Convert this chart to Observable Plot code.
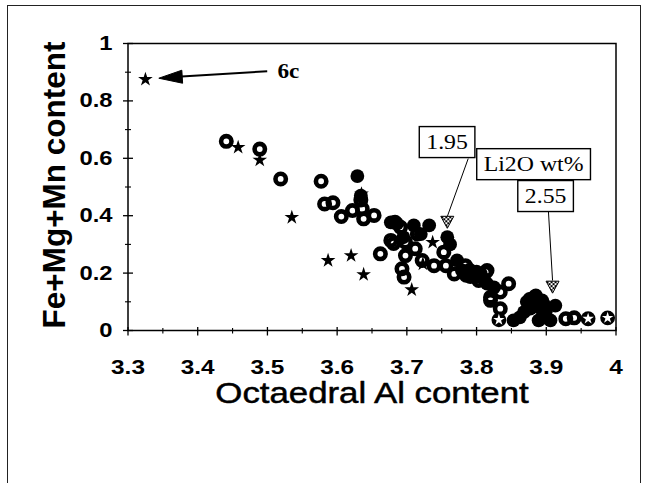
<!DOCTYPE html>
<html><head><meta charset="utf-8">
<script src="https://cdn.jsdelivr.net/npm/d3@7"></script>
<script src="https://cdn.jsdelivr.net/npm/@observablehq/plot@0.6"></script>
<style>
html,body{margin:0;padding:0;background:#fff;overflow:hidden;}
#wrap{position:relative;width:646px;height:483px;overflow:hidden;}
#wrap svg{position:absolute;left:0;top:0;}
#border{position:absolute;left:7px;top:5px;width:634px;height:520px;border:1.5px solid #222;box-sizing:border-box;pointer-events:none;}
</style></head><body><div id="wrap"><div id="border"></div></div>
<script>
// ---- data ----
const openX = [3.441,3.489,3.519,3.577,3.582,3.594,3.606,3.622,3.636,3.638,3.653,3.662,3.677,3.691,3.698,3.681,3.712,3.698,3.693,3.696,3.722,3.739,3.753,3.756,3.784,3.815,3.820,3.813,3.846,3.834,3.820,3.834,3.928,3.940,3.683,3.634,3.768,3.803,3.715];
const openY = [0.659,0.632,0.528,0.520,0.441,0.445,0.397,0.418,0.424,0.389,0.401,0.267,0.314,0.360,0.308,0.303,0.285,0.261,0.215,0.186,0.244,0.226,0.273,0.226,0.226,0.209,0.116,0.203,0.163,0.134,0.105,0.076,0.041,0.044,0.377,0.455,0.197,0.174,0.336];
const filledX = [3.629,3.634,3.677,3.686,3.710,3.732,3.695,3.720,3.758,3.772,3.779,3.791,3.806,3.815,3.862,3.882,3.894,3.877,3.899,3.906,3.889,3.868,3.913,3.853,3.872,3.890,3.898,3.762,3.785,3.800,3.885,3.876,3.896,3.790,3.800,3.810,3.825];
const filledY = [0.538,0.470,0.377,0.372,0.366,0.366,0.325,0.336,0.325,0.244,0.209,0.186,0.198,0.163,0.046,0.116,0.105,0.076,0.064,0.035,0.035,0.064,0.087,0.035,0.100,0.080,0.045,0.300,0.190,0.186,0.122,0.110,0.094,0.212,0.205,0.180,0.150];
const starX = [3.325,3.458,3.489,3.535,3.587,3.620,3.638,3.707,3.635,3.737,3.723];
const starY = [0.875,0.638,0.594,0.394,0.244,0.261,0.195,0.142,0.476,0.307,0.232];
const discStarX = [3.832,3.960,3.988];
const discStarY = [0.037,0.041,0.044];

const xTicks = [3.3,3.4,3.5,3.6,3.7,3.8,3.9,4.0];
const xTickLabels = ["3.3","3.4","3.5","3.6","3.7","3.8","3.9","4"];
const xMinor = [3.35,3.45,3.55,3.65,3.75,3.85,3.95];
const yTicks = [0,0.2,0.4,0.6,0.8,1];
const yTickLabels = ["0","0.2","0.4","0.6","0.8","1"];
const yMinor = [0.1,0.3,0.5,0.7,0.9];

const xTitle = "Octaedral Al content";
const yTitle = "Fe+Mg+Mn content";

const annLabels = ["1.95","Li2O wt%","2.55"];
const annX = [3.7577,3.8818,3.899];
const annY = [0.655,0.578,0.467];
const leaderX1 = [3.788,3.903], leaderY1 = [0.599,0.418];
const leaderX2 = [3.758,3.909], leaderY2 = [0.397,0.174];
const markerX = [3.758,3.909], markerY = [0.377,0.151];

const noteText = ["6c"], noteX = [3.530], noteY = [0.902];
const noteArrowX1 = [3.4997], noteArrowY1 = [0.9035], noteArrowX2 = [3.3767], noteArrowY2 = [0.885];
const noteHeadX = [3.3442], noteHeadY = [0.879];

// ---- tables ----
const pts = (xs, ys) => xs.map((x,i)=>({x, y: ys[i]}));
const openPts = pts(openX, openY), filledPts = pts(filledX, filledY), starPts = pts(starX, starY), discPts = pts(discStarX, discStarY);
const xTickPts = xTicks.map((x,i)=>({x, y:0, label:xTickLabels[i]}));
const yTickPts = yTicks.map((y,i)=>({x:3.3, y, label:yTickLabels[i]}));
const xMinorPts = xMinor.map(x=>({x,y:0}));
const yMinorPts = yMinor.map(y=>({x:3.3,y}));
const annPts = annLabels.map((t,i)=>({t, x:annX[i], y:annY[i]}));
const leaders = leaderX1.map((v,i)=>({x1:v,y1:leaderY1[i],x2:leaderX2[i],y2:leaderY2[i]}));
const markers = pts(markerX, markerY);
const notes = noteText.map((t,i)=>({t,x:noteX[i],y:noteY[i]}));
const noteArrows = noteArrowX1.map((v,i)=>({x1:v,y1:noteArrowY1[i],x2:noteArrowX2[i],y2:noteArrowY2[i]}));
const noteHeads = pts(noteHeadX, noteHeadY);

// ---- custom symbols ----
const vtick = (a,b) => ({draw(c){c.moveTo(0,-a);c.lineTo(0,b);}});
const htick = (a,b) => ({draw(c){c.moveTo(-a,0);c.lineTo(b,0);}});
const triDown = {draw(c){c.moveTo(-6.5,-6);c.lineTo(6.5,-6);c.lineTo(0,6);c.closePath();}};
const arrowHead = {draw(c){c.moveTo(0,0);c.lineTo(23.8,5.0);c.lineTo(23.0,-8.0);c.closePath();}};

const SANS = "Liberation Sans, Arial, sans-serif";
const SERIF = "Liberation Serif, Times New Roman, serif";

const svg = Plot.plot({
  width: 646, height: 483,
  marginLeft: 127.5, marginRight: 30.5, marginTop: 43, marginBottom: 153,
  x: {domain: [3.3, 4], axis: null},
  y: {domain: [0, 1], axis: null},
  style: {fontFamily: SANS, background: "white", overflow: "visible"},
  marks: [
    Plot.frame({stroke: "black", strokeWidth: 1.5}),
    Plot.dot(xTickPts, {x:"x", y:"y", symbol: vtick(3.5,5), r:3, stroke:"black", fill:"none", strokeWidth:1.3}),
    Plot.dot(xMinorPts, {x:"x", y:"y", symbol: vtick(2.5,3), r:3, stroke:"black", fill:"none", strokeWidth:1.1}),
    Plot.dot(yTickPts, {x:"x", y:"y", symbol: htick(5,5), r:3, stroke:"black", fill:"none", strokeWidth:1.3}),
    Plot.dot(yMinorPts, {x:"x", y:"y", symbol: htick(3,3), r:3, stroke:"black", fill:"none", strokeWidth:1.1}),
    Plot.text(xTickPts, {x:"x", y:"y", text:"label", dy: 37, fontSize: 21, fontWeight:"bold", fill:"black", lineAnchor:"middle"}),
    Plot.text(yTickPts, {x:"x", y:"y", text:"label", dx: -15.5, textAnchor:"end", fontSize: 20.5, fontWeight:"bold", fill:"black", lineAnchor:"middle"}),
    Plot.text([xTitle], {frameAnchor:"bottom", text: d=>d, dy: 63, fontSize: 30, fill:"black", stroke:"black", strokeWidth:0.5, textAnchor:"middle", lineAnchor:"middle"}),
    Plot.text([yTitle], {frameAnchor:"left", text: d=>d, rotate: -90, dx: -73.5, dy: -2, fontSize: 31.5, fontWeight:"bold", fill:"black", textAnchor:"middle", lineAnchor:"middle"}),
    // data
    Plot.dot(openPts, {x:"x", y:"y", r:5.2, fill:"none", stroke:"black", strokeWidth:4.6}),
    Plot.dot(filledPts, {x:"x", y:"y", r:6.9, fill:"black", stroke:"none"}),
    Plot.dot(starPts, {x:"x", y:"y", symbol:"star", r:4.6, fill:"black", stroke:"none"}),
    Plot.dot(discPts, {x:"x", y:"y", r:7.4, fill:"black", stroke:"none"}),
    Plot.dot(discPts, {x:"x", y:"y", symbol:"star", r:3.6, fill:"white", stroke:"none"}),
    // annotations
    Plot.link(noteArrows, {x1:"x1", y1:"y1", x2:"x2", y2:"y2", stroke:"black", strokeWidth:2}),
    Plot.dot(noteHeads, {x:"x", y:"y", symbol: arrowHead, r:3, fill:"black", stroke:"black", strokeWidth:1}),
    Plot.text(notes, {x:"x", y:"y", text:"t", fontFamily: SERIF, fontSize: 20, fontWeight:"bold", fill:"black"}),
    Plot.link(leaders, {x1:"x1", y1:"y1", x2:"x2", y2:"y2", stroke:"black", strokeWidth:1}),
    Plot.dot(markers, {x:"x", y:"y", symbol: triDown, r:3, fill:"url(#chk)", stroke:"black", strokeWidth:1}),
    Plot.text(annPts, {x:"x", y:"y", text:"t", fontFamily: SERIF, fontSize: 20.5, fill:"black"})
  ]
});

document.getElementById("wrap").insertBefore(svg, document.getElementById("border"));

// checker pattern for the Li2O markers
const defs = d3.select(svg).insert("defs", ":first-child");
const pat = defs.append("pattern").attr("id","chk").attr("patternUnits","userSpaceOnUse").attr("width",4).attr("height",4);
pat.append("rect").attr("width",4).attr("height",4).attr("fill","white");
pat.append("rect").attr("width",2).attr("height",2).attr("fill","black");
pat.append("rect").attr("x",2).attr("y",2).attr("width",2).attr("height",2).attr("fill","black");

// widen horizontal text like the source scan
const SX = 1.16;
d3.select(svg).selectAll("text").each(function(){
  const tr = this.getAttribute("transform") || "";
  if (tr.includes("rotate")) return;
  const L = this.getComputedTextLength();
  if (L > 0) { this.setAttribute("textLength", L*SX); this.setAttribute("lengthAdjust","spacingAndGlyphs"); }
});

// boxes around the Li2O labels
d3.select(svg).selectAll("text").filter(function(){ return annLabels.includes(this.textContent); }).each(function(){
  const b = this.getBBox();
  const r = document.createElementNS("http://www.w3.org/2000/svg","rect");
  r.setAttribute("x", b.x - 7); r.setAttribute("y", b.y - 4.5);
  r.setAttribute("width", b.width + 14); r.setAttribute("height", b.height + 9);
  r.setAttribute("fill","white"); r.setAttribute("stroke","black"); r.setAttribute("stroke-width","1.4");
  const tr = this.getAttribute("transform"); if (tr) r.setAttribute("transform", tr);
  this.parentNode.insertBefore(r, this);
});
</script></body></html>
